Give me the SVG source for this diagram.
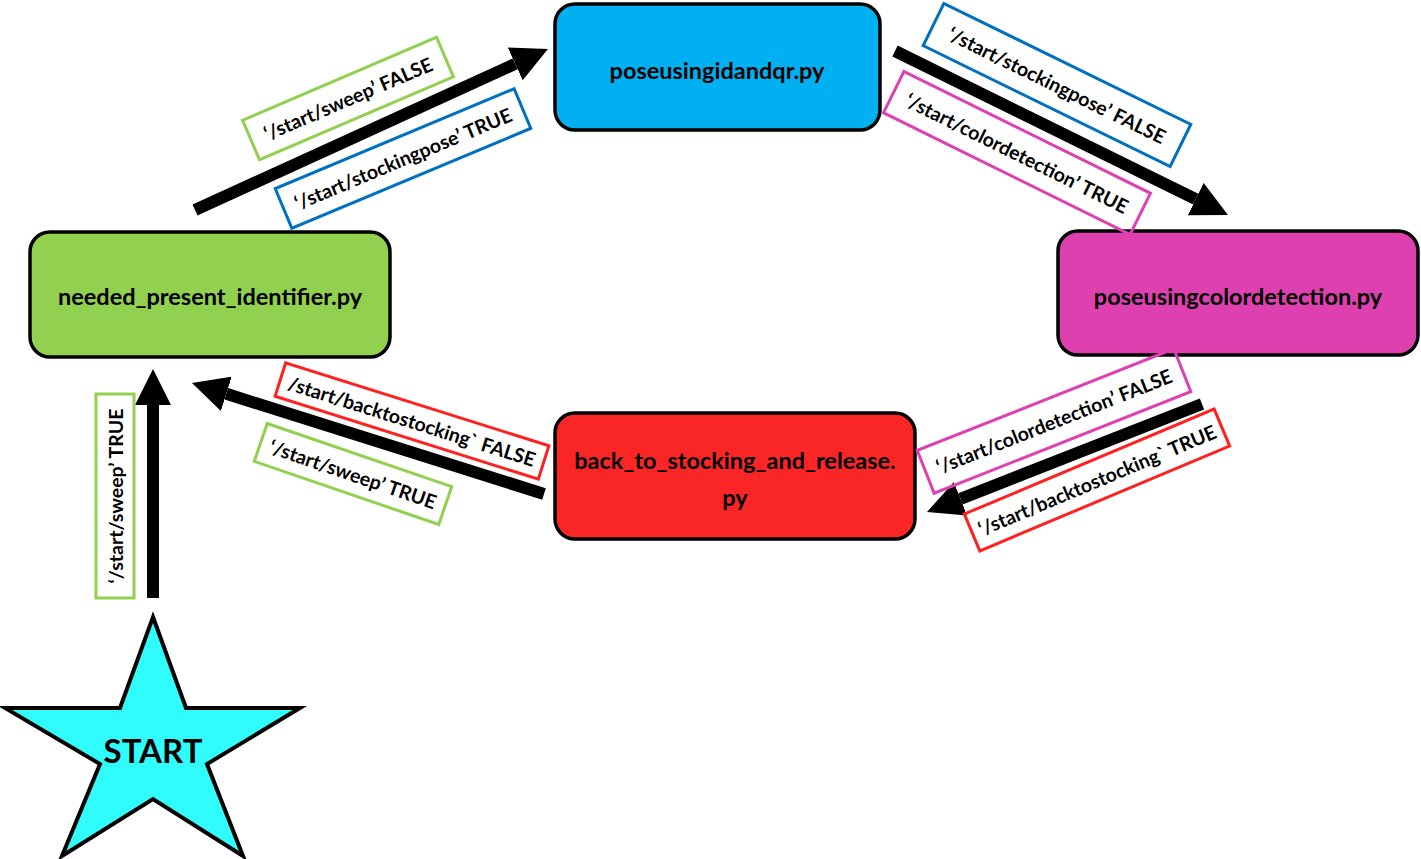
<svg xmlns="http://www.w3.org/2000/svg" width="1421" height="859" viewBox="0 0 1421 859">
<style>
.node{stroke:#000;stroke-width:3.5}
.nt{font-family:Lato,"Liberation Sans",sans-serif;font-weight:bold;font-size:23.5px;fill:#000;text-anchor:middle;dominant-baseline:central}
.lb{fill:none;stroke-width:3}
.lt{font-family:Lato,"Liberation Sans",sans-serif;font-weight:bold;font-size:19.5px;fill:#000;text-anchor:middle;dominant-baseline:central}
.g{stroke:#92D050}.b{stroke:#0070C0}.p{stroke:#DE40B0}.r{stroke:#FF2020}
.arr{stroke:#000;stroke-width:12;fill:none;marker-end:url(#ah)}
</style>
<defs>
<marker id="ah" markerUnits="userSpaceOnUse" markerWidth="36" markerHeight="36" refX="0" refY="18" orient="auto" viewBox="0 0 36 36">
<path d="M0,0 L36,18 L0,36 z" fill="#000"/>
</marker>
</defs>
<rect width="1421" height="859" fill="#fff"/>
<g id="connectors">
<line class="arr" x1="153" y1="598" x2="153" y2="405"/>
<line class="arr" x1="195" y1="210" x2="515.2" y2="63.9"/>
<line class="arr" x1="895" y1="51" x2="1195.7" y2="199.1"/>
<line class="arr" x1="1202" y1="404" x2="960.5" y2="498.8"/>
<line class="arr" x1="544" y1="494" x2="226.3" y2="393.8"/>
</g>
<g id="node-start">
<polygon points="153,617 186,708 300,708 207,764 243,856 153,799 62,856 100,764 5,708 120,708" fill="#30FCFC" stroke="#000" stroke-width="4" stroke-linejoin="miter"/>
<text x="153" y="750" font-family="Lato,'Liberation Sans',sans-serif" font-weight="bold" font-size="33" text-anchor="middle" dominant-baseline="central">START</text>
</g>
<g id="node-poseusingidandqr">
<rect class="node" x="555" y="4" width="325" height="126" rx="20" fill="#00B0F0"/>
<text class="nt" x="717" y="70">poseusingidandqr.py</text>
</g>
<g id="node-needed">
<rect class="node" x="30" y="232" width="360" height="125" rx="20" fill="#92D050"/>
<text class="nt" x="210" y="296">needed_present_identifier.py</text>
</g>
<g id="node-colordetection">
<rect class="node" x="1058" y="231" width="360" height="124" rx="20" fill="#DE40B0"/>
<text class="nt" x="1238" y="296">poseusingcolordetection.py</text>
</g>
<g id="node-backtostocking">
<rect class="node" x="555" y="413" width="360" height="126" rx="20" fill="#FA2626"/>
<text class="nt" x="735" y="460">back_to_stocking_and_release.</text>
<text class="nt" x="735" y="497">py</text>
</g>
<g id="labels">
<g transform="translate(115,496) rotate(-90)"><rect class="lb g" x="-102" y="-19" width="204" height="38"/><text class="lt" x="0" y="0">‘/start/sweep’ TRUE</text></g>
<g transform="translate(348,98.5) rotate(-23.2)"><rect class="lb g" x="-105.5" y="-21.5" width="211" height="43"/><text class="lt" x="0" y="0">‘/start/sweep’ FALSE</text></g>
<g transform="translate(403,158.5) rotate(-22.7)"><rect class="lb b" x="-129.5" y="-21.5" width="259" height="43"/><text class="lt" x="0" y="0">‘/start/stockingpose’ TRUE</text></g>
<g transform="translate(1057,85) rotate(26.1)"><rect class="lb b" x="-137.5" y="-23.5" width="275" height="47"/><text class="lt" x="0" y="0">‘/start/stockingpose’ FALSE</text></g>
<g transform="translate(1017,153) rotate(26.3)"><rect class="lb p" x="-137.5" y="-23" width="275" height="46"/><text class="lt" x="0" y="0">‘/start/colordetection’ TRUE</text></g>
<g transform="translate(1054,421) rotate(-21.6)"><rect class="lb p" x="-138" y="-23" width="276" height="46"/><text class="lt" x="0" y="0">‘/start/colordetection’ FALSE</text></g>
<g transform="translate(1097,480) rotate(-22.8)"><rect class="lb r" x="-135.5" y="-20" width="271" height="40"/><text class="lt" x="0" y="0">‘/start/backtostocking` TRUE</text></g>
<g transform="translate(412,421) rotate(17.5)"><rect class="lb r" x="-138" y="-17.5" width="276" height="35"/><text class="lt" x="0" y="0">/start/backtostocking` FALSE</text></g>
<g transform="translate(353,474) rotate(18.9)"><rect class="lb g" x="-97.5" y="-20" width="195" height="40"/><text class="lt" x="0" y="0">‘/start/sweep’ TRUE</text></g>
</g>
</svg>
